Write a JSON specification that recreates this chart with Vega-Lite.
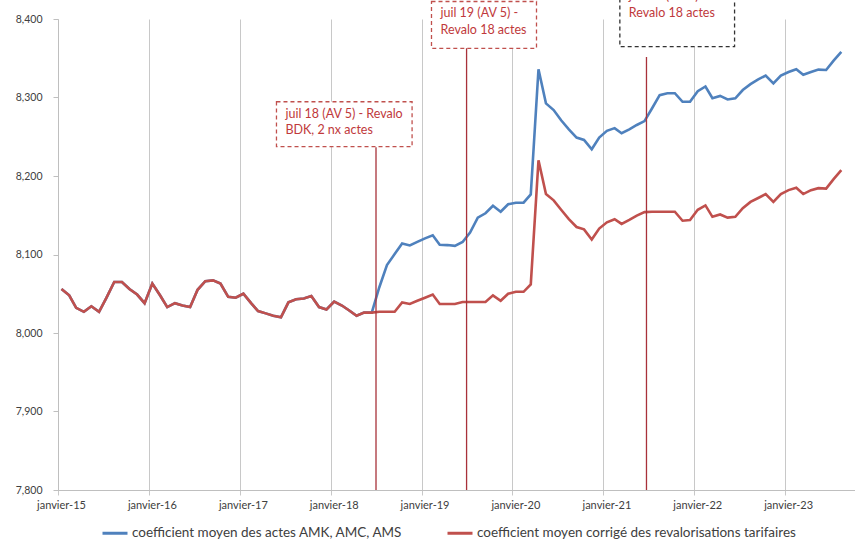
{
  "$schema": "https://vega.github.io/schema/vega-lite/v6.json",
  "width": 797,
  "height": 471,
  "autosize": {"type": "none"},
  "padding": {"left": 58, "top": 19, "right": 0, "bottom": 49},
  "background": "white",
  "config": {
    "locale": {
      "number": {"decimal": ",", "thousands": ".", "grouping": [3], "currency": ["", " €"]},
      "time": {
        "dateTime": "%A %e %B %Y à %X", "date": "%d/%m/%Y", "time": "%H:%M:%S", "periods": ["AM", "PM"],
        "days": ["dimanche", "lundi", "mardi", "mercredi", "jeudi", "vendredi", "samedi"],
        "shortDays": ["dim.", "lun.", "mar.", "mer.", "jeu.", "ven.", "sam."],
        "months": ["janvier", "février", "mars", "avril", "mai", "juin", "juillet", "août", "septembre", "octobre", "novembre", "décembre"],
        "shortMonths": ["janv.", "févr.", "mars", "avr.", "mai", "juin", "juil.", "août", "sept.", "oct.", "nov.", "déc."]
      }
    },
    "view": {"stroke": null},
    "font": "Lato"
  },
  "datasets": {
    "amk": [
      {"mois": "2015-01-15", "coef": 8.056}, {"mois": "2015-02-15", "coef": 8.048}, {"mois": "2015-03-15", "coef": 8.032}, {"mois": "2015-04-15", "coef": 8.027}, {"mois": "2015-05-15", "coef": 8.034}, {"mois": "2015-06-15", "coef": 8.027}, {"mois": "2015-07-15", "coef": 8.045}, {"mois": "2015-08-15", "coef": 8.065}, {"mois": "2015-09-15", "coef": 8.065}, {"mois": "2015-10-15", "coef": 8.056}, {"mois": "2015-11-15", "coef": 8.049}, {"mois": "2015-12-15", "coef": 8.038},
      {"mois": "2016-01-15", "coef": 8.063}, {"mois": "2016-02-15", "coef": 8.048}, {"mois": "2016-03-15", "coef": 8.033}, {"mois": "2016-04-15", "coef": 8.038}, {"mois": "2016-05-15", "coef": 8.035}, {"mois": "2016-06-15", "coef": 8.033}, {"mois": "2016-07-15", "coef": 8.055}, {"mois": "2016-08-15", "coef": 8.066}, {"mois": "2016-09-15", "coef": 8.067}, {"mois": "2016-10-15", "coef": 8.063}, {"mois": "2016-11-15", "coef": 8.046}, {"mois": "2016-12-15", "coef": 8.045},
      {"mois": "2017-01-15", "coef": 8.050}, {"mois": "2017-02-15", "coef": 8.038}, {"mois": "2017-03-15", "coef": 8.028}, {"mois": "2017-04-15", "coef": 8.025}, {"mois": "2017-05-15", "coef": 8.022}, {"mois": "2017-06-15", "coef": 8.020}, {"mois": "2017-07-15", "coef": 8.039}, {"mois": "2017-08-15", "coef": 8.043}, {"mois": "2017-09-15", "coef": 8.044}, {"mois": "2017-10-15", "coef": 8.047}, {"mois": "2017-11-15", "coef": 8.033}, {"mois": "2017-12-15", "coef": 8.030},
      {"mois": "2018-01-15", "coef": 8.040}, {"mois": "2018-02-15", "coef": 8.035}, {"mois": "2018-03-15", "coef": 8.029}, {"mois": "2018-04-15", "coef": 8.022}, {"mois": "2018-05-15", "coef": 8.026}, {"mois": "2018-06-15", "coef": 8.026}, {"mois": "2018-07-15", "coef": 8.058}, {"mois": "2018-08-15", "coef": 8.0865}, {"mois": "2018-09-15", "coef": 8.1005}, {"mois": "2018-10-15", "coef": 8.114}, {"mois": "2018-11-15", "coef": 8.1115}, {"mois": "2018-12-15", "coef": 8.116},
      {"mois": "2019-01-15", "coef": 8.1205}, {"mois": "2019-02-15", "coef": 8.1245}, {"mois": "2019-03-15", "coef": 8.1125}, {"mois": "2019-04-15", "coef": 8.112}, {"mois": "2019-05-15", "coef": 8.111}, {"mois": "2019-06-15", "coef": 8.116}, {"mois": "2019-07-15", "coef": 8.128}, {"mois": "2019-08-15", "coef": 8.147}, {"mois": "2019-09-15", "coef": 8.1525}, {"mois": "2019-10-15", "coef": 8.162}, {"mois": "2019-11-15", "coef": 8.1545}, {"mois": "2019-12-15", "coef": 8.164},
      {"mois": "2020-01-15", "coef": 8.166}, {"mois": "2020-02-15", "coef": 8.166}, {"mois": "2020-03-15", "coef": 8.1765}, {"mois": "2020-04-15", "coef": 8.336}, {"mois": "2020-05-15", "coef": 8.2925}, {"mois": "2020-06-15", "coef": 8.284}, {"mois": "2020-07-15", "coef": 8.271}, {"mois": "2020-08-15", "coef": 8.2595}, {"mois": "2020-09-15", "coef": 8.249}, {"mois": "2020-10-15", "coef": 8.246}, {"mois": "2020-11-15", "coef": 8.234}, {"mois": "2020-12-15", "coef": 8.249},
      {"mois": "2021-01-15", "coef": 8.2575}, {"mois": "2021-02-15", "coef": 8.261}, {"mois": "2021-03-15", "coef": 8.2545}, {"mois": "2021-04-15", "coef": 8.2595}, {"mois": "2021-05-15", "coef": 8.265}, {"mois": "2021-06-15", "coef": 8.270}, {"mois": "2021-07-15", "coef": 8.286}, {"mois": "2021-08-15", "coef": 8.303}, {"mois": "2021-09-15", "coef": 8.3055}, {"mois": "2021-10-15", "coef": 8.3055}, {"mois": "2021-11-15", "coef": 8.2945}, {"mois": "2021-12-15", "coef": 8.2945},
      {"mois": "2022-01-15", "coef": 8.308}, {"mois": "2022-02-15", "coef": 8.314}, {"mois": "2022-03-15", "coef": 8.299}, {"mois": "2022-04-15", "coef": 8.302}, {"mois": "2022-05-15", "coef": 8.2975}, {"mois": "2022-06-15", "coef": 8.299}, {"mois": "2022-07-15", "coef": 8.3095}, {"mois": "2022-08-15", "coef": 8.317}, {"mois": "2022-09-15", "coef": 8.323}, {"mois": "2022-10-15", "coef": 8.328}, {"mois": "2022-11-15", "coef": 8.318}, {"mois": "2022-12-15", "coef": 8.328},
      {"mois": "2023-01-15", "coef": 8.3325}, {"mois": "2023-02-15", "coef": 8.336}, {"mois": "2023-03-15", "coef": 8.329}, {"mois": "2023-04-15", "coef": 8.3325}, {"mois": "2023-05-15", "coef": 8.3355}, {"mois": "2023-06-15", "coef": 8.335}, {"mois": "2023-07-15", "coef": 8.347}, {"mois": "2023-08-15", "coef": 8.358}
    ],
    "corrige": [
      {"mois": "2015-01-15", "coef": 8.056}, {"mois": "2015-02-15", "coef": 8.048}, {"mois": "2015-03-15", "coef": 8.032}, {"mois": "2015-04-15", "coef": 8.027}, {"mois": "2015-05-15", "coef": 8.034}, {"mois": "2015-06-15", "coef": 8.027}, {"mois": "2015-07-15", "coef": 8.045}, {"mois": "2015-08-15", "coef": 8.065}, {"mois": "2015-09-15", "coef": 8.065}, {"mois": "2015-10-15", "coef": 8.056}, {"mois": "2015-11-15", "coef": 8.049}, {"mois": "2015-12-15", "coef": 8.038},
      {"mois": "2016-01-15", "coef": 8.063}, {"mois": "2016-02-15", "coef": 8.048}, {"mois": "2016-03-15", "coef": 8.033}, {"mois": "2016-04-15", "coef": 8.038}, {"mois": "2016-05-15", "coef": 8.035}, {"mois": "2016-06-15", "coef": 8.033}, {"mois": "2016-07-15", "coef": 8.055}, {"mois": "2016-08-15", "coef": 8.066}, {"mois": "2016-09-15", "coef": 8.067}, {"mois": "2016-10-15", "coef": 8.063}, {"mois": "2016-11-15", "coef": 8.046}, {"mois": "2016-12-15", "coef": 8.045},
      {"mois": "2017-01-15", "coef": 8.050}, {"mois": "2017-02-15", "coef": 8.038}, {"mois": "2017-03-15", "coef": 8.028}, {"mois": "2017-04-15", "coef": 8.025}, {"mois": "2017-05-15", "coef": 8.022}, {"mois": "2017-06-15", "coef": 8.020}, {"mois": "2017-07-15", "coef": 8.039}, {"mois": "2017-08-15", "coef": 8.043}, {"mois": "2017-09-15", "coef": 8.044}, {"mois": "2017-10-15", "coef": 8.047}, {"mois": "2017-11-15", "coef": 8.033}, {"mois": "2017-12-15", "coef": 8.030},
      {"mois": "2018-01-15", "coef": 8.040}, {"mois": "2018-02-15", "coef": 8.035}, {"mois": "2018-03-15", "coef": 8.029}, {"mois": "2018-04-15", "coef": 8.022}, {"mois": "2018-05-15", "coef": 8.026}, {"mois": "2018-06-15", "coef": 8.026}, {"mois": "2018-07-15", "coef": 8.027}, {"mois": "2018-08-15", "coef": 8.027}, {"mois": "2018-09-15", "coef": 8.027}, {"mois": "2018-10-15", "coef": 8.039}, {"mois": "2018-11-15", "coef": 8.037}, {"mois": "2018-12-15", "coef": 8.041},
      {"mois": "2019-01-15", "coef": 8.045}, {"mois": "2019-02-15", "coef": 8.049}, {"mois": "2019-03-15", "coef": 8.037}, {"mois": "2019-04-15", "coef": 8.037}, {"mois": "2019-05-15", "coef": 8.037}, {"mois": "2019-06-15", "coef": 8.0395}, {"mois": "2019-07-15", "coef": 8.0395}, {"mois": "2019-08-15", "coef": 8.0395}, {"mois": "2019-09-15", "coef": 8.0395}, {"mois": "2019-10-15", "coef": 8.048}, {"mois": "2019-11-15", "coef": 8.041}, {"mois": "2019-12-15", "coef": 8.050},
      {"mois": "2020-01-15", "coef": 8.0525}, {"mois": "2020-02-15", "coef": 8.0525}, {"mois": "2020-03-15", "coef": 8.062}, {"mois": "2020-04-15", "coef": 8.220}, {"mois": "2020-05-15", "coef": 8.177}, {"mois": "2020-06-15", "coef": 8.169}, {"mois": "2020-07-15", "coef": 8.157}, {"mois": "2020-08-15", "coef": 8.145}, {"mois": "2020-09-15", "coef": 8.135}, {"mois": "2020-10-15", "coef": 8.132}, {"mois": "2020-11-15", "coef": 8.119}, {"mois": "2020-12-15", "coef": 8.133},
      {"mois": "2021-01-15", "coef": 8.141}, {"mois": "2021-02-15", "coef": 8.145}, {"mois": "2021-03-15", "coef": 8.139}, {"mois": "2021-04-15", "coef": 8.144}, {"mois": "2021-05-15", "coef": 8.1495}, {"mois": "2021-06-15", "coef": 8.154}, {"mois": "2021-07-15", "coef": 8.1545}, {"mois": "2021-08-15", "coef": 8.1545}, {"mois": "2021-09-15", "coef": 8.1545}, {"mois": "2021-10-15", "coef": 8.1545}, {"mois": "2021-11-15", "coef": 8.143}, {"mois": "2021-12-15", "coef": 8.144},
      {"mois": "2022-01-15", "coef": 8.157}, {"mois": "2022-02-15", "coef": 8.1625}, {"mois": "2022-03-15", "coef": 8.148}, {"mois": "2022-04-15", "coef": 8.151}, {"mois": "2022-05-15", "coef": 8.147}, {"mois": "2022-06-15", "coef": 8.148}, {"mois": "2022-07-15", "coef": 8.159}, {"mois": "2022-08-15", "coef": 8.167}, {"mois": "2022-09-15", "coef": 8.172}, {"mois": "2022-10-15", "coef": 8.177}, {"mois": "2022-11-15", "coef": 8.167}, {"mois": "2022-12-15", "coef": 8.177},
      {"mois": "2023-01-15", "coef": 8.182}, {"mois": "2023-02-15", "coef": 8.185}, {"mois": "2023-03-15", "coef": 8.177}, {"mois": "2023-04-15", "coef": 8.182}, {"mois": "2023-05-15", "coef": 8.1845}, {"mois": "2023-06-15", "coef": 8.184}, {"mois": "2023-07-15", "coef": 8.196}, {"mois": "2023-08-15", "coef": 8.2075}
    ],
    "revalos": [
      {"revalo": "juil 18", "texte": "juil 18 (AV 5) - Revalo\nBDK, 2 nx actes", "debut": "2017-05-28", "fin": "2018-11-24", "haut": 8.2946, "bas": 8.2375, "date": "2018-07-02", "trait": 8.2365},
      {"revalo": "juil 19", "texte": "juil 19 (AV 5) -\nRevalo 18 actes", "debut": "2019-02-10", "fin": "2020-04-07", "haut": 8.4223, "bas": 8.3627, "date": "2019-07-01", "trait": 8.3631},
      {"revalo": "juil 21", "texte": "juil 21 (AV 5) -\nRevalo 18 actes", "debut": "2021-03-08", "fin": "2022-06-12", "haut": 8.4442, "bas": 8.3647, "date": "2021-06-23", "trait": 8.3516}
    ]
  },
  "layer": [
    {
      "data": {"name": "amk"},
      "mark": {"type": "line", "strokeWidth": 2.6, "color": "#4F81BD"},
      "encoding": {
        "x": {
          "field": "mois", "type": "temporal",
          "scale": {"domain": [{"year": 2015, "month": 1, "date": 1}, {"year": 2023, "month": 10, "date": 9}]},
          "axis": {
            "title": null, "format": "%B-%y", "tickCount": {"interval": "year", "step": 1},
            "grid": true, "gridColor": "#C8C8C8", "gridWidth": 1,
            "domainColor": "#BFBFBF", "tickColor": "#C8C8C8", "tickSize": 5,
            "labelFont": "Lato", "labelFontSize": 11, "labelColor": "#404040", "labelPadding": 4,
            "labelOffset": 3, "labelFlush": false, "labelOverlap": false
          }
        },
        "y": {
          "field": "coef", "type": "quantitative",
          "scale": {"domain": [7.8, 8.4], "zero": false, "nice": false},
          "axis": {
            "title": null, "values": [7.8, 7.9, 8.0, 8.1, 8.2, 8.3, 8.4], "format": ".3f",
            "grid": false, "domainColor": "#BFBFBF", "tickColor": "#BFBFBF", "tickSize": 5,
            "labelFont": "Lato", "labelFontSize": 10.5, "labelColor": "#404040", "labelPadding": 11
          }
        },
        "color": {
          "datum": "coefficient moyen des actes AMK, AMC, AMS",
          "scale": {
            "domain": ["coefficient moyen des actes AMK, AMC, AMS", "coefficient moyen corrigé des revalorisations tarifaires"],
            "range": ["#4F81BD", "#C0504D"]
          },
          "legend": {
            "orient": "none", "legendX": 43, "legendY": 500, "direction": "horizontal", "columns": 2,
            "title": null, "symbolType": "stroke", "symbolStrokeWidth": 3, "symbolSize": 625,
            "labelFont": "Lato", "labelFontSize": 13.5, "labelColor": "#404040", "labelLimit": 600,
            "columnPadding": 38, "labelOffset": 3, "padding": 0
          }
        }
      }
    },
    {
      "data": {"name": "corrige"},
      "mark": {"type": "line", "strokeWidth": 2.6},
      "encoding": {
        "x": {"field": "mois", "type": "temporal"},
        "y": {"field": "coef", "type": "quantitative", "title": null},
        "color": {"datum": "coefficient moyen corrigé des revalorisations tarifaires"}
      }
    },
    {
      "data": {"name": "revalos"},
      "mark": {"type": "rule", "color": "#A8323A", "strokeWidth": 1.3},
      "encoding": {
        "x": {"field": "date", "type": "temporal"},
        "y": {"field": "trait", "type": "quantitative", "title": null},
        "y2": {"datum": 7.8}
      }
    },
    {
      "data": {"name": "revalos"},
      "mark": {"type": "rect", "fill": "white", "strokeDash": [4, 3], "strokeWidth": 1.3},
      "encoding": {
        "x": {"field": "debut", "type": "temporal"},
        "x2": {"field": "fin"},
        "y": {"field": "haut", "type": "quantitative", "title": null},
        "y2": {"field": "bas"},
        "stroke": {
          "field": "revalo", "type": "nominal",
          "scale": {"domain": ["juil 18", "juil 19", "juil 21"], "range": ["#C0504D", "#C0504D", "#333333"]},
          "legend": null
        }
      }
    },
    {
      "data": {"name": "revalos"},
      "mark": {
        "type": "text", "align": "left", "baseline": "top", "dx": 9, "dy": 6,
        "font": "Lato", "fontSize": 12.5, "lineBreak": "\n", "lineHeight": 16.5, "color": "#C0393B"
      },
      "encoding": {
        "x": {"field": "debut", "type": "temporal"},
        "y": {"field": "haut", "type": "quantitative", "title": null},
        "text": {"field": "texte", "type": "nominal"}
      }
    }
  ]
}
